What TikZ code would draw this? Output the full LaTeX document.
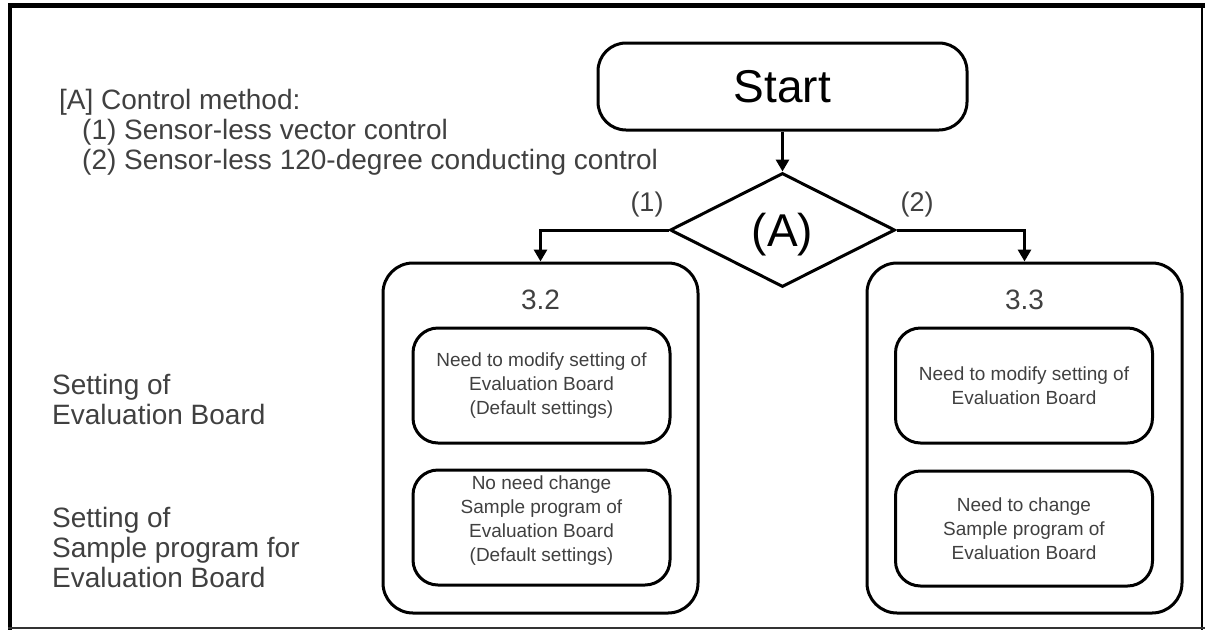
\documentclass[tikz,border=0pt]{standalone}
\usepackage{fontspec}
\setmainfont{Liberation Sans}
\usetikzlibrary{shapes.geometric,arrows.meta}
\definecolor{txtgray}{HTML}{404040}
\begin{document}
\begin{tikzpicture}[x=1pt,y=-1pt,
  box/.style={draw, line width=3pt, rounded corners=30pt, inner sep=0pt},
  outerbox/.style={box, minimum width=315pt, minimum height=350pt},
  innerbox/.style={box, rounded corners=25pt, minimum width=257pt, minimum height=115pt},
  smalltxt/.style={font=\fontsize{19}{24}\selectfont, text=txtgray, align=center, inner sep=0pt},
  lbl/.style={font=\fontsize{28}{30}\selectfont, text=txtgray, align=left, inner sep=0pt, anchor=west},
  numlbl/.style={font=\fontsize{28}{30}\selectfont, text=txtgray, inner sep=0pt},
  brlbl/.style={font=\fontsize{27}{30}\selectfont, text=txtgray, inner sep=0pt},
  bigtxt/.style={font=\fontsize{46}{50}\selectfont, inner sep=0pt},
  arr/.style={line width=3pt, -{Triangle[width=13pt,length=12pt]}}
]
\useasboundingbox (0,0) rectangle (1205,630);
% frame
\draw[line width=5pt] (8,5.8) -- (1205,5.8);
\draw[line width=4pt] (10,3.3) -- (10,630);
\draw[line width=2.5pt] (1202,3.3) -- (1202,630);
\draw[line width=2.5pt, black!80] (8,628) -- (1205,628);

% left texts
\node[lbl] (ctl) at (59,132) {[A] Control method:\\\hspace*{23pt}(1) Sensor-less vector control\\\hspace*{23pt}(2) Sensor-less 120-degree conducting control};
\node[lbl] (setb) at (52,399) {Setting of\\Evaluation Board};
\node[lbl] (setp) at (52,547) {Setting of\\Sample program for\\Evaluation Board};

% start and decision
\node[box, rounded corners=28pt, minimum width=369pt, minimum height=87pt, font=\fontsize{46}{50}\selectfont] (start) at (782.5,86.5) {Start};
\node[diamond, draw, line width=3pt, minimum width=225pt, minimum height=114pt, inner sep=0pt, aspect=2] (A) at (782.5,230) {};
\node[bigtxt] (At) at (782.5,235) {(A)};
\node[brlbl] (l1) at (647,205) {(1)};
\node[brlbl] (l2) at (917,205) {(2)};

% outer boxes
\node[outerbox] (b32) at (540.5,438) {};
\node[outerbox] (b33) at (1024.5,438) {};
\node[numlbl] (n32) at (540.5,300) {3.2};
\node[numlbl] (n33) at (1024.5,300) {3.3};

% inner boxes
\node[innerbox, smalltxt] (e32) at (541.5,385.5) {Need to modify setting of\\Evaluation Board\\(Default settings)};
\node[innerbox] (p32) at (541.5,527.5) {};
\node[smalltxt] (p32t) at (541.5,521) {No need change\\Sample program of\\Evaluation Board\\(Default settings)};
\node[innerbox, smalltxt] (e33) at (1024,385.5) {Need to modify setting of\\Evaluation Board};
\node[innerbox, smalltxt] (p33) at (1024,528.5) {Need to change\\Sample program of\\Evaluation Board};

% connectors
\draw[arr] (start.south) -- (A.north);
\draw[arr] (A.west) -| (b32.north);
\draw[arr] (A.east) -| (b33.north);
\end{tikzpicture}
\end{document}
